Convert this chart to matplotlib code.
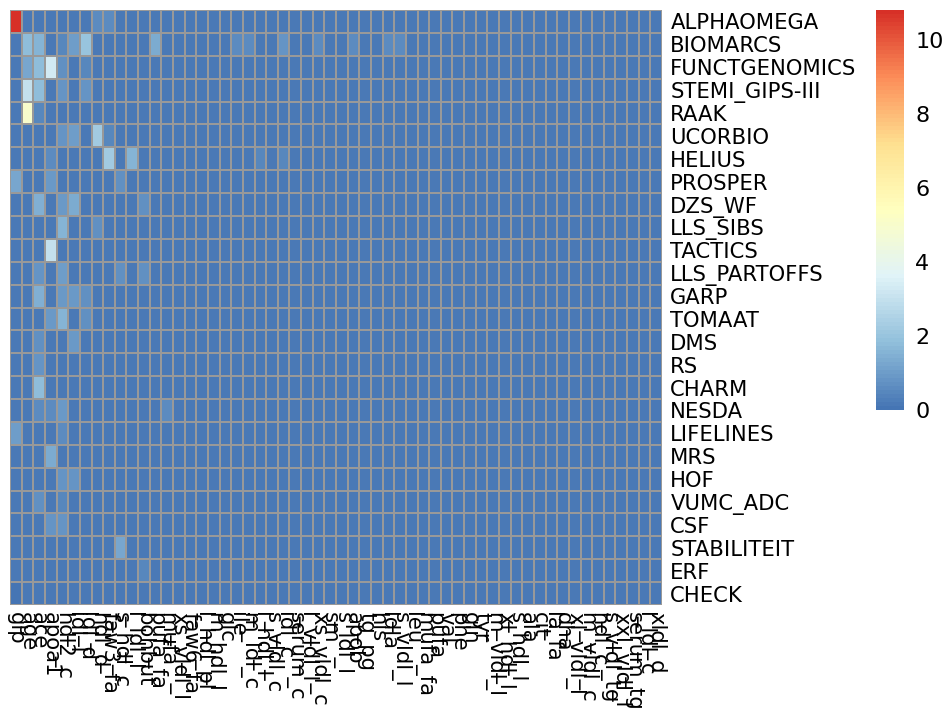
import numpy as np
import matplotlib
matplotlib.use("Agg")
from matplotlib import pyplot as plt
from matplotlib.colors import LinearSegmentedColormap

cohorts = ["ALPHAOMEGA", "BIOMARCS", "FUNCTGENOMICS", "STEMI_GIPS-III", "RAAK",
           "UCORBIO", "HELIUS", "PROSPER", "DZS_WF", "LLS_SIBS", "TACTICS",
           "LLS_PARTOFFS", "GARP", "TOMAAT", "DMS", "RS", "CHARM", "NESDA",
           "LIFELINES", "MRS", "HOF", "VUMC_ADC", "CSF", "STABILITEIT", "ERF", "CHECK"]

metabolites = ["glp", "age", "ace", "apoa1", "hdl2_c", "idl_l", "ldl_d", "hdl_d",
               "faw3_fa", "s_hdl_c", "l_ldl_l", "bohbut", "pufa_fa", "mufa", "xs_vldl_l",
               "faw6_fa", "l_hdl_pl", "m_hdl_l", "glc", "ile", "m_ldl_c", "l_hdl_l",
               "s_vldl_c", "idl_c", "serum_c", "l_vldl_l", "xs_vldl_c", "sm",
               "s_ldl_l", "apob", "tg_pg", "his", "ldla", "s_vldl_l", "leu",
               "mufa_fa", "pufa", "val", "phe", "gln", "tyr", "m_vldl_l", "xl_hdl_l",
               "s_hdl_l", "ala", "cit", "la_fa", "dha", "xl_vldl_l", "m_vldl_c",
               "hdl_c", "s_vldl_tg", "xxl_vldl_l", "serum_tg", "l_ldl_c", "xldl_d"]

# background level of nearly all cells
base_level = 0.2

# (cohort, metabolite column, value) for cells that stand out
hot_cells = [
    ("ALPHAOMEGA", 0, 10.8), ("ALPHAOMEGA", 7, 0.6), ("ALPHAOMEGA", 8, 0.6),
    ("BIOMARCS", 1, 1.8), ("BIOMARCS", 2, 1.6), ("BIOMARCS", 4, 0.5), ("BIOMARCS", 5, 1.0),
    ("BIOMARCS", 6, 2.0), ("BIOMARCS", 12, 1.3), ("BIOMARCS", 19, 0.6), ("BIOMARCS", 20, 0.6),
    ("BIOMARCS", 23, 0.8), ("BIOMARCS", 26, 0.6), ("BIOMARCS", 29, 0.6),
    ("BIOMARCS", 32, 0.6), ("BIOMARCS", 33, 0.6),
    ("FUNCTGENOMICS", 1, 1.2), ("FUNCTGENOMICS", 2, 1.8), ("FUNCTGENOMICS", 3, 3.3),
    ("FUNCTGENOMICS", 4, 0.7), ("FUNCTGENOMICS", 6, 0.5),
    ("STEMI_GIPS-III", 1, 3.0), ("STEMI_GIPS-III", 2, 1.8), ("STEMI_GIPS-III", 4, 0.8),
    ("STEMI_GIPS-III", 6, 0.8),
    ("RAAK", 1, 5.0), ("RAAK", 2, 0.5),
    ("UCORBIO", 4, 0.8), ("UCORBIO", 5, 1.0), ("UCORBIO", 7, 2.2), ("UCORBIO", 8, 0.5),
    ("HELIUS", 3, 0.6), ("HELIUS", 8, 2.2), ("HELIUS", 10, 1.6), ("HELIUS", 21, 0.5),
    ("HELIUS", 23, 0.5),
    ("PROSPER", 0, 1.2), ("PROSPER", 3, 0.9), ("PROSPER", 9, 0.7),
    ("DZS_WF", 2, 1.5), ("DZS_WF", 4, 0.9), ("DZS_WF", 5, 1.3), ("DZS_WF", 11, 0.7),
    ("LLS_SIBS", 4, 1.6), ("LLS_SIBS", 7, 0.7),
    ("TACTICS", 3, 3.0),
    ("LLS_PARTOFFS", 2, 0.8), ("LLS_PARTOFFS", 4, 1.0), ("LLS_PARTOFFS", 9, 0.7),
    ("LLS_PARTOFFS", 11, 0.7),
    ("GARP", 2, 1.5), ("GARP", 4, 0.9), ("GARP", 5, 0.9), ("GARP", 6, 0.7),
    ("TOMAAT", 3, 0.9), ("TOMAAT", 4, 1.6), ("TOMAAT", 6, 0.7),
    ("DMS", 2, 0.7), ("DMS", 5, 0.9),
    ("RS", 2, 0.8),
    ("CHARM", 2, 1.8),
    ("NESDA", 2, 0.6), ("NESDA", 3, 0.6), ("NESDA", 4, 0.9), ("NESDA", 13, 0.6),
    ("LIFELINES", 0, 1.0), ("LIFELINES", 4, 0.6),
    ("MRS", 3, 1.3),
    ("HOF", 4, 0.8), ("HOF", 5, 0.8),
    ("VUMC_ADC", 2, 0.7), ("VUMC_ADC", 4, 0.5),
    ("CSF", 3, 0.8), ("CSF", 4, 0.8),
    ("STABILITEIT", 9, 1.2),
    ("ERF", 11, 0.5),
    ("CHECK", 0, 0.0),
]

vals = np.full((len(cohorts), len(metabolites)), base_level)
for name, j, v in hot_cells:
    vals[cohorts.index(name), j] = v

# pheatmap default palette: rev(brewer.pal(7, "RdYlBu")), 100 steps
cmap = LinearSegmentedColormap.from_list(
    "pheat", ["#4575B4", "#91BFDB", "#E0F3F8", "#FFFFBF", "#FEE090", "#FC8D59", "#D73027"], N=100)

fig = plt.figure(figsize=(9.49, 7.08), dpi=100)
ax = fig.add_axes([10 / 949, 1 - 605 / 708, 652 / 949, 595 / 708])
mesh = ax.pcolormesh(vals, cmap=cmap, vmin=0, vmax=10.8,
                     edgecolors="#999999", linewidth=1.1)
ax.set_xlim(0, len(metabolites))
ax.set_ylim(len(cohorts), 0)
for s in ax.spines.values():
    s.set_visible(False)

ax.yaxis.tick_right()
ax.set_yticks(np.arange(len(cohorts)) + 0.5)
ax.set_yticklabels(cohorts, fontsize=15.2)
ax.set_xticks(np.arange(len(metabolites)) + 0.5)
ax.set_xticklabels(metabolites, fontsize=15.2, rotation=270, ha="center", va="top")
ax.tick_params(axis="y", length=0, pad=6)
ax.tick_params(axis="x", length=0, pad=5)

cax = fig.add_axes([876 / 949, 1 - 410 / 708, 28 / 949, 400 / 708])
cb = fig.colorbar(mesh, cax=cax)
cb.outline.set_visible(False)
cb.set_ticks([0, 2, 4, 6, 8, 10])
cb.ax.tick_params(length=0, labelsize=16, pad=8)

fig.savefig("out.png", dpi=100)
